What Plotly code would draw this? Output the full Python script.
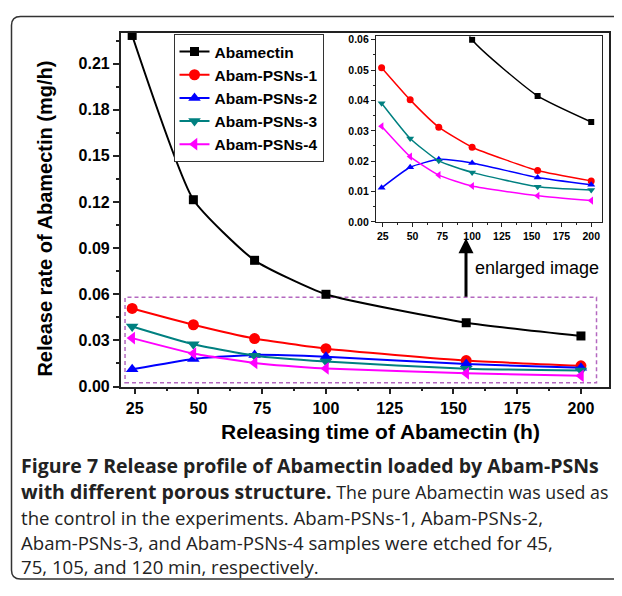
import plotly.graph_objects as go

# ---------------- data ----------------
time_h = [24, 48, 72, 100, 155, 200]
abamectin = [0.2283, 0.1215, 0.0821, 0.0600, 0.0415, 0.0329]
psns1 = [0.0508, 0.0402, 0.0312, 0.0246, 0.0169, 0.0135]
psns2 = [0.0112, 0.0180, 0.0206, 0.0194, 0.0146, 0.0122]
psns3 = [0.0391, 0.0275, 0.0201, 0.0163, 0.0116, 0.0105]
psns4 = [0.0315, 0.0215, 0.0154, 0.0118, 0.0086, 0.0070]

series_names = ["Abamectin", "Abam-PSNs-1", "Abam-PSNs-2", "Abam-PSNs-3", "Abam-PSNs-4"]
series_values = [abamectin, psns1, psns2, psns3, psns4]
colors = ["#000000", "#ff0000", "#0000ff", "#008080", "#ff00ff"]
symbols = ["square", "circle", "triangle-up", "triangle-down", "triangle-left"]
main_sizes = [9, 11, 11, 11, 11]
inset_sizes = [6, 7, 7, 7, 7]

OFF = 8  # page body margin
W, H = 622 - 2 * OFF, 596 - 2 * OFF


def px(x):
    return (x - OFF) / W


def py(y):
    return 1 - (y - OFF) / H


fig = go.Figure()

for name, vals, c, s, ms in zip(series_names, series_values, colors, symbols, main_sizes):
    fig.add_trace(go.Scatter(
        x=time_h, y=vals, name=name, mode="lines+markers",
        line=dict(color=c, width=2, shape="spline", smoothing=0.5),
        marker=dict(symbol=s, size=ms, color=c),
        xaxis="x", yaxis="y", cliponaxis=False,
    ))

for name, vals, c, s, ms in zip(series_names, series_values, colors, symbols, inset_sizes):
    fig.add_trace(go.Scatter(
        x=time_h, y=vals, name=name, mode="lines+markers", showlegend=False,
        line=dict(color=c, width=1.5, shape="spline", smoothing=0.5),
        marker=dict(symbol=s, size=ms, color=c),
        xaxis="x2", yaxis="y2",
    ))

axis_line = "#222222"
tickfont_main = dict(family="Arial", size=16, color="black", weight="bold")
tickfont_inset = dict(family="Arial", size=10.5, color="black", weight="bold")

fig.update_layout(
    width=W, height=H,
    margin=dict(l=0, r=0, t=0, b=0),
    paper_bgcolor="white", plot_bgcolor="white",
    showlegend=True,
    legend=dict(
        x=px(173.5), y=py(31.5), xanchor="left", yanchor="top",
        bgcolor="white", bordercolor="#333333", borderwidth=1,
        font=dict(family="Arial", size=15.5, color="black", weight="bold"),
        tracegroupgap=0, itemsizing="trace",
    ),
    xaxis=dict(
        domain=[px(120.7), px(609)], range=[19.5, 211],
        tick0=25, dtick=25, ticks="outside", ticklen=6, tickwidth=1.5, tickcolor=axis_line,
        minor=dict(ticks="outside", ticklen=3, dtick=12.5, tick0=25, tickcolor=axis_line),
        showline=True, linecolor=axis_line, linewidth=1.5, mirror=True,
        showgrid=False, zeroline=False, tickfont=tickfont_main, anchor="y",
    ),
    yaxis=dict(
        domain=[py(391.5), py(30)], range=[0, 0.2302],
        tick0=0, dtick=0.03, tickformat=".2f", ticks="outside", ticklen=6, tickwidth=1.5,
        tickcolor=axis_line,
        minor=dict(ticks="outside", ticklen=3, dtick=0.015, tick0=0, tickcolor=axis_line),
        showline=True, linecolor=axis_line, linewidth=1.5, mirror=True,
        showgrid=False, zeroline=False, tickfont=tickfont_main, anchor="x",
    ),
    xaxis2=dict(
        domain=[px(376), px(601.7)], range=[19.3, 208.8],
        tick0=25, dtick=25, ticks="outside", ticklen=4, tickwidth=1, tickcolor=axis_line,
        minor=dict(ticks="outside", ticklen=2, dtick=12.5, tick0=25, tickcolor=axis_line),
        showline=True, linecolor=axis_line, linewidth=1.2, mirror=True,
        showgrid=False, zeroline=False, tickfont=tickfont_inset, anchor="y2",
    ),
    yaxis2=dict(
        domain=[py(223.3), py(34)], range=[0, 0.0611],
        tick0=0, dtick=0.01, tickformat=".2f", ticks="outside", ticklen=4, tickwidth=1,
        tickcolor=axis_line,
        minor=dict(ticks="outside", ticklen=2, dtick=0.005, tick0=0, tickcolor=axis_line),
        showline=True, linecolor=axis_line, linewidth=1.2, mirror=True,
        showgrid=False, zeroline=False, tickfont=tickfont_inset, anchor="x2",
    ),
)

# dashed selection box (main axes data coords)
fig.add_shape(type="rect", xref="x", yref="y", x0=21.2, x1=206.1, y0=0.0024, y1=0.058,
              line=dict(color="#b468c0", width=1.5, dash="4px,3px"), layer="below")

# outer rounded frame
L, T, B, r = 11.5, 13.5, 588, 9
path = (f"M 1.05,{py(T)} L {px(L + r)},{py(T)} Q {px(L)},{py(T)} {px(L)},{py(T + r)} "
        f"L {px(L)},{py(B - r)} Q {px(L)},{py(B)} {px(L + r)},{py(B)} L 1.05,{py(B)}")
fig.add_shape(type="path", xref="paper", yref="paper", path=path,
              line=dict(color="#333333", width=1.5))

# arrow + label
fig.add_annotation(xref="paper", yref="paper", x=px(466), y=py(240), ax=0, ay=60,
                   showarrow=True, arrowhead=2, arrowsize=1, arrowwidth=3,
                   arrowcolor="black", text="")
fig.add_annotation(xref="paper", yref="paper", x=px(473), y=py(270.5), xanchor="left",
                   yanchor="middle", showarrow=False, text="enlarged image",
                   font=dict(family="Arial", size=18, color="black"))

# axis titles
fig.add_annotation(xref="paper", yref="paper", x=px(380), y=py(437), showarrow=False,
                   text="Releasing time of Abamectin (h)", xanchor="center", yanchor="middle",
                   font=dict(family="Arial", size=21, color="black", weight="bold"))
fig.add_annotation(xref="paper", yref="paper", x=px(45), y=py(220), showarrow=False,
                   text="Release rate of Abamectin (mg/h)", textangle=-90,
                   xanchor="center", yanchor="middle",
                   font=dict(family="Arial", size=20, color="black", weight="bold"))

# caption
REG = '<span style="font-size:18.6px">'
REG2 = '<span style="font-size:17.8px">'
caption_lines = [
    "<b>Figure 7 Release profile of Abamectin loaded by Abam-PSNs</b>",
    "<b>with different porous structure.</b>" + REG2 + " The pure Abamectin was used as</span>",
    REG + "the control in the experiments. Abam-PSNs-1, Abam-PSNs-2,</span>",
    REG + "Abam-PSNs-3, and Abam-PSNs-4 samples were etched for 45,</span>",
    REG + "75, 105, and 120 min, respectively.</span>",
]
caption_y = [472, 499, 525, 551, 575]
for txt, yy in zip(caption_lines, caption_y):
    fig.add_annotation(xref="paper", yref="paper", x=px(19), y=py(yy), xanchor="left",
                       yanchor="middle", showarrow=False, text=txt,
                       font=dict(family="Open Sans", size=19.5, color="#222222"))

fig.write_html("out.html")
